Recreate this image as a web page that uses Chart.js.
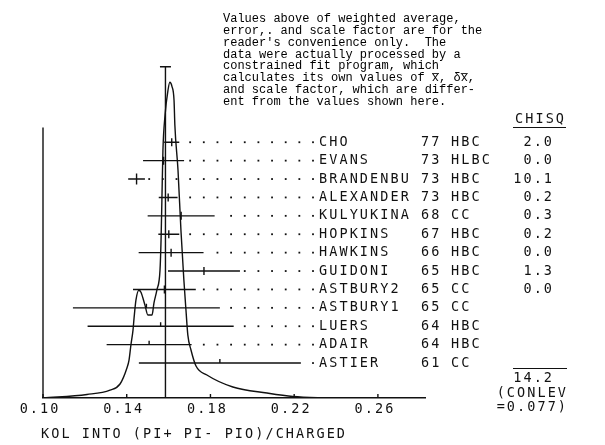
<!DOCTYPE html>
<html>
<head>
<meta charset="utf-8">
<script src="https://cdn.jsdelivr.net/npm/chart.js@4.4.1/dist/chart.umd.min.js"></script>
<style>
  html, body { margin: 0; padding: 0; background: #fff; }
  canvas { display: block; }
</style>
</head>
<body>
<canvas id="ideogram" width="605" height="445"></canvas>
<script>
// measurements, top row first
const names = ['CHO', 'EVANS', 'BRANDENBU', 'ALEXANDER', 'KULYUKINA', 'HOPKINS', 'HAWKINS',
               'GUIDONI', 'ASTBURY2', 'ASTBURY1', 'LUERS', 'ADAIR', 'ASTIER'];
const years = ['77', '73', '73', '73', '68', '67', '66', '65', '65', '65', '64', '64', '61'];
const detectors = ['HBC', 'HLBC', 'HBC', 'HBC', 'CC', 'HBC', 'HBC', 'HBC', 'CC', 'CC', 'HBC', 'HBC', 'CC'];
const values = [0.1615, 0.1576, 0.1447, 0.1598, 0.1660, 0.1601, 0.1612, 0.1769, 0.1580, 0.1494, 0.1562, 0.1507, 0.1845];
const errors = [0.0036, 0.0098, 0.0040, 0.0045, 0.0160, 0.0050, 0.0155, 0.0172, 0.0150, 0.0351, 0.0349, 0.0203, 0.0387];
const chisq = ['2.0', '0.0', '10.1', '0.2', '0.3', '0.2', '0.0', '1.3', '0.0', '', '', '', ''];
const usedInFit = [true, true, true, true, true, true, true, true, true, false, false, false, false];

const weightedAvg = 0.1585;
const chisqTotal = '14.2';
const conlev = '0.077';

// ideogram curve
const curveX = [0.1000, 0.1210, 0.1320, 0.1368, 0.1401, 0.1411, 0.1420, 0.1430, 0.1435, 0.1444, 0.1458,
                0.1468, 0.1487, 0.1501, 0.1521, 0.1530, 0.1544, 0.1559, 0.1564, 0.1568, 0.1573, 0.1583,
                0.1597, 0.1606, 0.1616, 0.1626, 0.1630, 0.1645, 0.1659, 0.1673, 0.1683, 0.1692, 0.1707,
                0.1731, 0.1783, 0.1907, 0.2070, 0.2194, 0.2371];
const curveY = [0.00, 0.19, 0.43, 0.76, 1.63, 2.06, 2.88, 3.69, 4.34, 5.32, 5.86,
                5.75, 5.05, 4.51, 4.51, 5.16, 5.86, 6.95, 8.58, 10.75, 13.46, 15.36,
                16.72, 17.16, 16.94, 16.18, 14.82, 12.38, 9.12, 6.41, 4.78, 3.42, 2.61,
                1.74, 1.25, 0.60, 0.27, 0.08, 0.00];

const xTicks = [0.10, 0.14, 0.18, 0.22, 0.26];
const xTitle = 'KOL INTO (PI+ PI- PIO)/CHARGED';

const noteLines = [
  'Values above of weighted average,',
  'error,. and scale factor are for the',
  "reader's convenience only.  The",
  'data were actually processed by a',
  'constrained fit program, which',
  'calculates its own values of x\u0305, \u03b4x\u0305,',
  'and scale factor, which are differ-',
  'ent from the values shown here.'
];

const INK = '#111';
const PLOT_FONT = '13.5px "DejaVu Sans Mono"';
const ADV = 10.2;   // plotter character pitch

// row positions on the y scale (bottom row sits a little above the axis)
const rowY = names.map((n, i) => names.length - 1 - i + 1.9);

function monoText(ctx, str, x, y, align) {
  const w = str.length * ADV;
  const x0 = align === 'right' ? x - w : align === 'center' ? x - w / 2 : x;
  ctx.textAlign = 'center';
  ctx.textBaseline = 'middle';
  for (let i = 0; i < str.length; i++) {
    ctx.fillText(str[i], x0 + ADV * i + ADV / 2, y);
  }
}

const ideogramPlugin = {
  id: 'ideogram',
  afterDatasetsDraw(chart) {
    const { ctx, scales: { x, y } } = chart;
    ctx.save();
    ctx.strokeStyle = INK;
    ctx.fillStyle = INK;
    ctx.lineWidth = 1.4;

    // left frame line
    ctx.beginPath();
    ctx.moveTo(x.getPixelForValue(0.10), y.getPixelForValue(0));
    ctx.lineTo(x.getPixelForValue(0.10), y.getPixelForValue(14.7));
    ctx.stroke();

    // weighted average line with cap
    const ax = x.getPixelForValue(weightedAvg);
    const aTop = y.getPixelForValue(18.0);
    ctx.beginPath();
    ctx.moveTo(ax, y.getPixelForValue(0));
    ctx.lineTo(ax, aTop);
    ctx.moveTo(ax - 5.5, aTop);
    ctx.lineTo(ax + 5.5, aTop);
    ctx.stroke();

    // axis tick marks (pointing up)
    xTicks.forEach(t => {
      const px = x.getPixelForValue(t);
      ctx.beginPath();
      ctx.moveTo(px, y.bottom);
      ctx.lineTo(px, y.bottom - 4);
      ctx.stroke();
    });

    // error bars, central ticks, leader dots
    const nameDot = 313, dotStep = 13.65;
    values.forEach((v, i) => {
      const py = y.getPixelForValue(rowY[i]);
      const x1 = x.getPixelForValue(v - errors[i]);
      const x2 = x.getPixelForValue(v + errors[i]);
      const xc = x.getPixelForValue(v);
      ctx.beginPath();
      ctx.moveTo(x1, py);
      ctx.lineTo(x2, py);
      if (usedInFit[i]) {
        const h = i === 2 ? 5.5 : 4;
        ctx.moveTo(xc, py - h);
        ctx.lineTo(xc, py + h);
      } else {
        ctx.moveTo(xc, py - 4);
        ctx.lineTo(xc, py);
      }
      ctx.stroke();
      for (let dx = nameDot; dx > x2 + 3; dx -= dotStep) {
        ctx.fillRect(dx - 0.9, py - 0.9, 1.8, 1.8);
      }
    });
    ctx.restore();
  },
  afterDraw(chart) {
    const { ctx, scales: { x, y } } = chart;
    ctx.save();
    ctx.fillStyle = INK;
    ctx.strokeStyle = INK;
    ctx.font = PLOT_FONT;

    // row text
    names.forEach((n, i) => {
      const py = y.getPixelForValue(rowY[i]);
      monoText(ctx, n, 318, py, 'left');
      monoText(ctx, years[i], 420, py, 'left');
      monoText(ctx, detectors[i], 450, py, 'left');
      if (chisq[i]) monoText(ctx, chisq[i], 553, py, 'right');
    });

    // chisq header and total
    monoText(ctx, 'CHISQ', 565, 119, 'right');
    ctx.lineWidth = 1.2;
    ctx.beginPath();
    ctx.moveTo(513, 127.5); ctx.lineTo(566, 127.5);
    ctx.moveTo(513, 368.5); ctx.lineTo(567, 368.5);
    ctx.stroke();
    monoText(ctx, chisqTotal, 553, 378, 'right');
    monoText(ctx, '(CONLEV', 567, 393, 'right');
    monoText(ctx, '=' + conlev + ')', 567, 407, 'right');

    // x tick labels and axis title
    xTicks.forEach(t => {
      monoText(ctx, t.toFixed(2), x.getPixelForValue(t) - 4, 409, 'center');
    });
    monoText(ctx, xTitle, 40, 434, 'left');

    // typed note
    ctx.font = '12px "Liberation Mono"';
    ctx.fillStyle = '#000';
    ctx.textAlign = 'left';
    ctx.textBaseline = 'middle';
    noteLines.forEach((line, i) => ctx.fillText(line, 223, 19 + i * 11.8));
    ctx.restore();
  }
};

new Chart(document.getElementById('ideogram'), {
  type: 'line',
  data: {
    datasets: [{
      data: curveX.map((cx, i) => ({ x: cx, y: curveY[i] })),
      borderColor: INK,
      borderWidth: 1.4,
      pointRadius: 0,
      fill: false,
      cubicInterpolationMode: 'monotone'
    }]
  },
  options: {
    responsive: false,
    animation: false,
    devicePixelRatio: 1,
    layout: { padding: { left: 43, right: 180, top: 30, bottom: 0 } },
    scales: {
      x: {
        type: 'linear',
        min: 0.10,
        max: 0.2825,
        ticks: { display: false },
        grid: { display: false },
        border: { display: true, color: INK, width: 1.4 },
        afterFit(scale) { scale.height = 47; }
      },
      y: { display: false, min: 0, max: 20 }
    },
    plugins: {
      legend: { display: false },
      tooltip: { enabled: false }
    }
  },
  plugins: [ideogramPlugin]
});
</script>
</body>
</html>
